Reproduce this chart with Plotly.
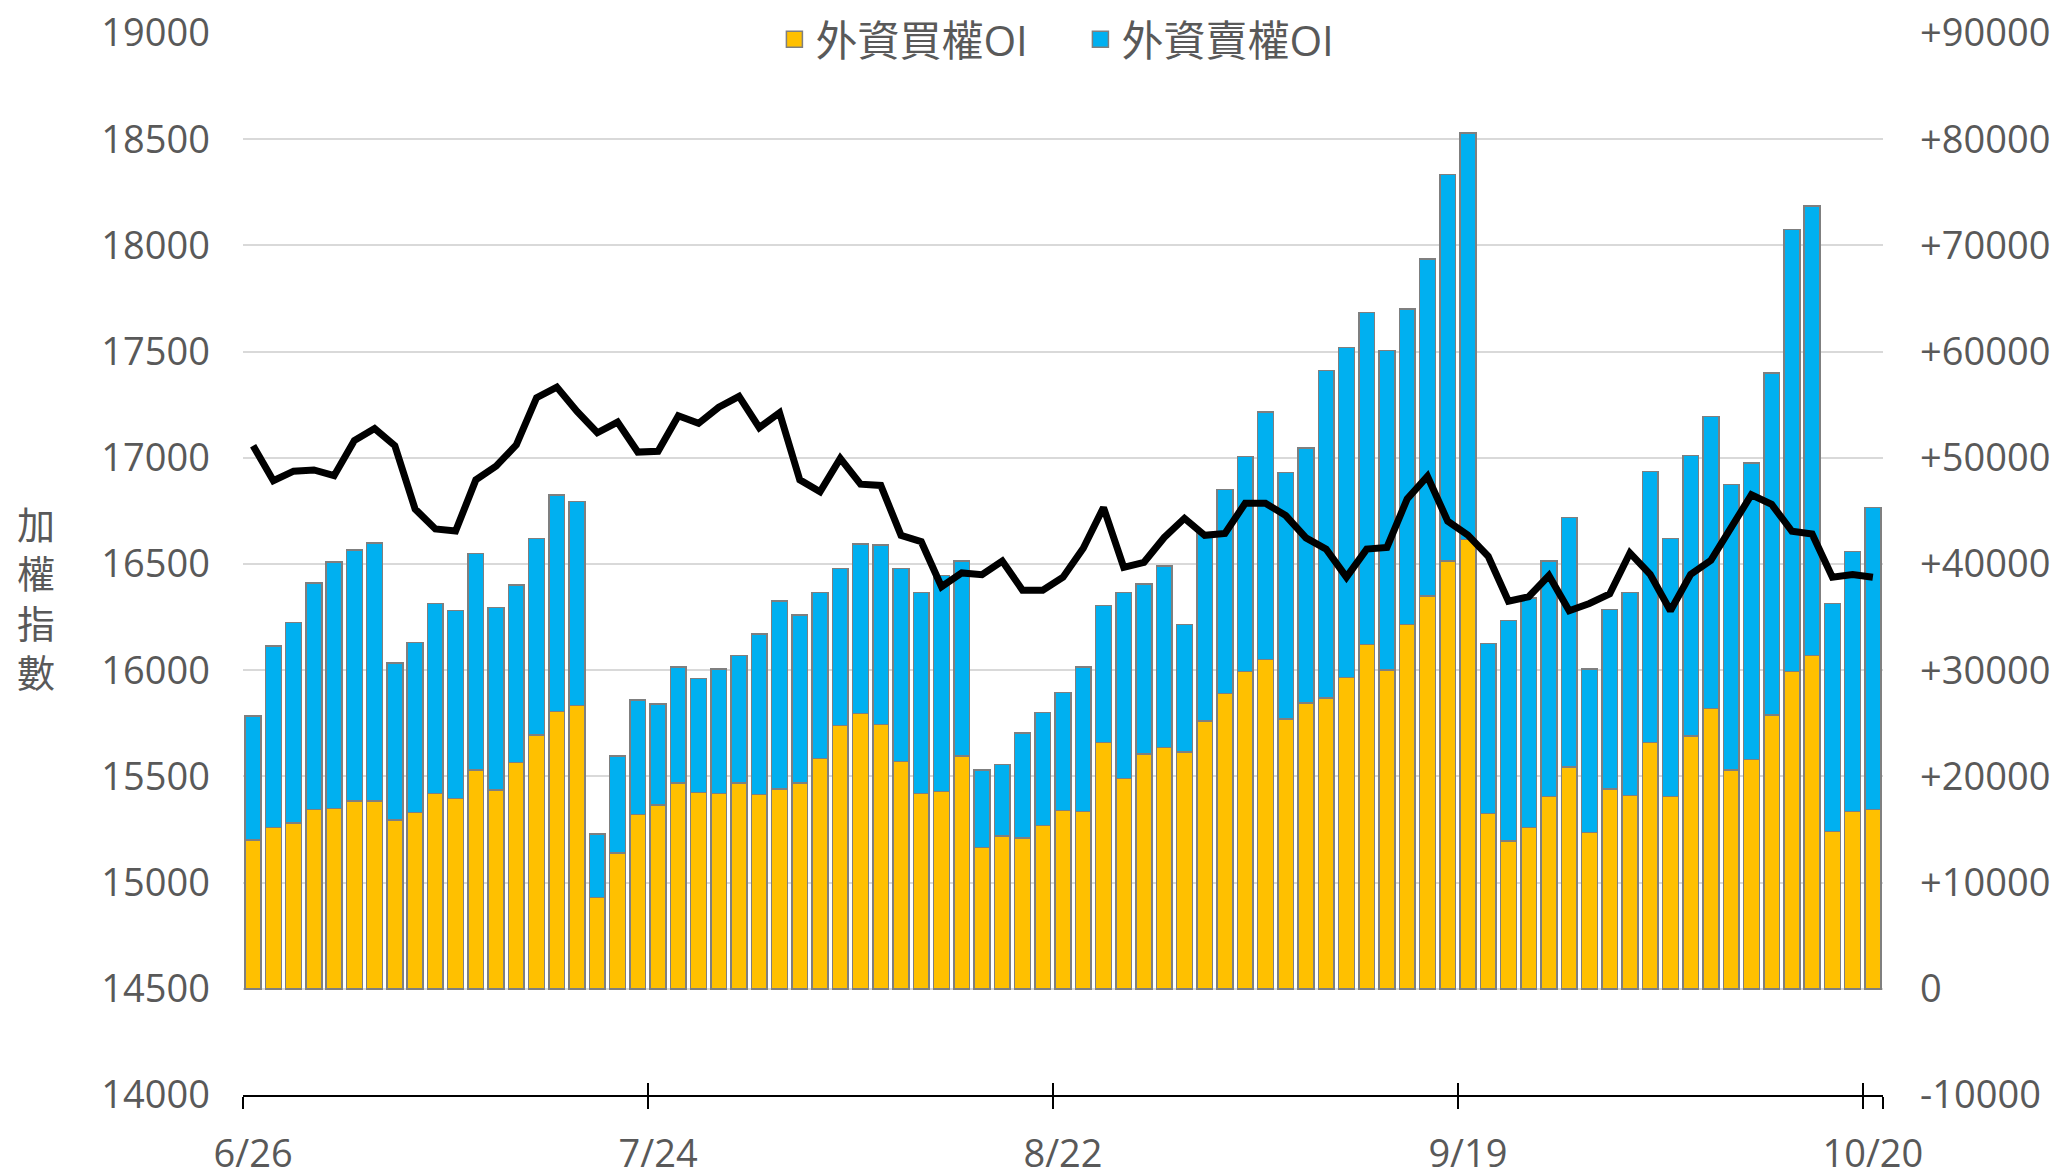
import plotly.graph_objects as go

# ---------------- data ----------------
dates = [
    "6/26", "6/27", "6/28", "6/29", "6/30",
    "7/3", "7/4", "7/5", "7/6", "7/7",
    "7/10", "7/11", "7/12", "7/13", "7/14",
    "7/17", "7/18", "7/19", "7/20", "7/21",
    "7/24", "7/25", "7/26", "7/27", "7/28",
    "7/31", "8/1", "8/2", "8/4",
    "8/7", "8/8", "8/9", "8/10", "8/11",
    "8/14", "8/15", "8/16", "8/17", "8/18",
    "8/21", "8/22", "8/23", "8/24", "8/25",
    "8/28", "8/29", "8/30", "8/31", "9/1",
    "9/4", "9/5", "9/6", "9/7", "9/8",
    "9/11", "9/12", "9/13", "9/14", "9/15",
    "9/18", "9/19", "9/20", "9/21", "9/22",
    "9/25", "9/26", "9/27", "9/28",
    "10/2", "10/3", "10/4", "10/5", "10/6",
    "10/11", "10/12", "10/13",
    "10/16", "10/17", "10/18", "10/19", "10/20",
]

taiex = [
    17057, 16892, 16937, 16943, 16916, 17081, 17138, 17057, 16759, 16665,
    16655, 16896, 16961, 17061, 17283, 17333, 17218, 17118, 17168, 17027,
    17031, 17198, 17162, 17238, 17289, 17142, 17212, 16896, 16840, 16997,
    16876, 16870, 16635, 16605, 16393, 16458, 16450, 16514, 16377, 16377,
    16438, 16574, 16766, 16484, 16508, 16625, 16715, 16635, 16644, 16786,
    16786, 16728, 16623, 16570, 16438, 16570, 16578, 16807, 16913, 16702,
    16636, 16536, 16325, 16346, 16446, 16280, 16314, 16359, 16552, 16451,
    16280, 16451, 16517, 16668, 16826, 16781, 16654, 16641, 16438, 16451,
    16438,
]

call_oi = [
    14000, 15200, 15600, 16900, 17000, 17700, 17700, 15900, 16600, 18400,
    17900, 20600, 18700, 21300, 23900, 26100, 26700, 8600, 12800, 16400,
    17300, 19400, 18500, 18400, 19400, 18300, 18800, 19400, 21700, 24800,
    25900, 24900, 21400, 18400, 18600, 21900, 13300, 14400, 14200, 15400,
    16800, 16700, 23200, 19800, 22100, 22700, 22300, 25200, 27800, 29900,
    31000, 25400, 26900, 27400, 29300, 32400, 30000, 34300, 37000, 40300,
    42300, 16500, 13900, 15200, 18100, 20900, 14700, 18800, 18200, 23200,
    18100, 23800, 26400, 20600, 21600, 25800, 29900, 31400, 14800, 16700,
    16900,
]

put_oi = [
    11700, 17100, 18900, 21300, 23200, 23600, 24300, 14800, 16000, 17900,
    17700, 20400, 17200, 16700, 18500, 20400, 19200, 6000, 9100, 10800,
    9500, 10900, 10700, 11700, 12000, 15100, 17700, 15800, 15600, 14800,
    16000, 16900, 18200, 18900, 20300, 18400, 7300, 6700, 9900, 10600,
    11100, 13600, 12900, 17500, 16000, 17100, 12000, 17700, 19200, 20200,
    23300, 23200, 24000, 30800, 31100, 31300, 30100, 29700, 31700, 36400,
    38300, 16000, 20800, 21600, 22200, 23500, 15400, 16900, 19100, 25500,
    24300, 26400, 27500, 26900, 27900, 32200, 41600, 42300, 21500, 24500,
    28400,
]

tick_dates = ["6/26", "7/24", "8/22", "9/19", "10/20"]
left_tickvals = [14000, 14500, 15000, 15500, 16000, 16500, 17000, 17500, 18000, 18500, 19000]
right_tickvals = [-10000, 0, 10000, 20000, 30000, 40000, 50000, 60000, 70000, 80000, 90000]
right_ticktext = ["-10000", "0", "+10000", "+20000", "+30000", "+40000",
                  "+50000", "+60000", "+70000", "+80000", "+90000"]

name_call = "外資買權OI"
name_put = "外資賣權OI"
y_title = "加權指數"

# ---------------- style ----------------
FONT = "Open Sans, Noto Sans CJK TC, sans-serif"
TXT = "#595959"
YELLOW = "#FFC000"
BLUE = "#00B0F0"
EDGE = "#7F7F7F"
GRID = "#D9D9D9"

fig = go.Figure()

fig.add_trace(go.Bar(
    x=dates, y=call_oi, name=name_call, xaxis="x", yaxis="y",
    marker=dict(color=YELLOW, line=dict(color=EDGE, width=1.5)),
    showlegend=False, hoverinfo="x+y+name",
))
fig.add_trace(go.Bar(
    x=dates, y=put_oi, name=name_put, xaxis="x", yaxis="y",
    marker=dict(color=BLUE, line=dict(color=EDGE, width=1.5)),
    showlegend=False, hoverinfo="x+y+name",
))
# legend entries
fig.add_trace(go.Scatter(
    x=[None], y=[None], name=name_call, mode="markers", xaxis="x", yaxis="y",
    marker=dict(symbol="square", size=16, color=YELLOW, line=dict(color=EDGE, width=1.5)),
))
fig.add_trace(go.Scatter(
    x=[None], y=[None], name=name_put, mode="markers", xaxis="x", yaxis="y",
    marker=dict(symbol="square", size=16, color=BLUE, line=dict(color=EDGE, width=1.5)),
))
# index line on the left axis (overlaying so it is drawn above bars)
fig.add_trace(go.Scatter(
    x=dates, y=taiex, name=y_title, mode="lines", xaxis="x", yaxis="y2",
    line=dict(color="black", width=7), showlegend=False,
))
# helper trace for the upper half of crossing tick marks
fig.add_trace(go.Scatter(
    x=dates, y=[None] * len(dates), xaxis="x2", yaxis="y",
    showlegend=False, hoverinfo="skip", mode="lines",
))

# the page has an 8px body margin, so the figure is 16px smaller than the window
fig.update_layout(
    width=2043, height=1160,
    margin=dict(l=235, r=168, t=25, b=73, autoexpand=False),
    paper_bgcolor="white", plot_bgcolor="white",
    font=dict(family=FONT, color=TXT, size=38),
    barmode="stack", bargap=0.22,
    showlegend=True,
    legend=dict(
        orientation="h", x=0.51, xanchor="center", y=0.994, yanchor="middle",
        traceorder="normal", entrywidth=259, entrywidthmode="pixels",
        font=dict(size=42, color=TXT, family=FONT), bgcolor="rgba(0,0,0,0)",
        itemwidth=32,
    ),
    xaxis=dict(
        type="category", categoryorder="array", categoryarray=dates,
        range=[-0.5, len(dates) - 0.5], anchor="y", automargin=False,
        tickmode="array", tickvals=tick_dates, ticktext=tick_dates, tickangle=0,
        tickson="boundaries", ticks="outside", ticklen=12, tickwidth=1.5,
        tickcolor="black", showline=True, linecolor="black", linewidth=1.5,
        showgrid=False, zeroline=False, ticklabeloverflow="allow",
        tickfont=dict(size=38, color=TXT), ticklabelstandoff=25,
    ),
    xaxis2=dict(
        type="category", categoryorder="array", categoryarray=dates,
        range=[-0.5, len(dates) - 0.5], anchor="y", overlaying="x", side="bottom",
        automargin=False,
        tickmode="array", tickvals=tick_dates,
        tickson="boundaries", ticks="inside", ticklen=12, tickwidth=1.5,
        tickcolor="black", showline=False, showgrid=False, zeroline=False,
        showticklabels=False,
    ),
    yaxis=dict(
        side="right", range=[-10000, 90000], automargin=False,
        tickmode="array", tickvals=right_tickvals, ticktext=right_ticktext,
        showgrid=True, gridcolor=GRID, gridwidth=1.5,
        zeroline=False, showline=False, ticks="", ticklabeloverflow="allow",
        tickfont=dict(size=38, color=TXT), ticklabelstandoff=36,
    ),
    yaxis2=dict(
        side="left", overlaying="y", range=[14000, 19000], automargin=False,
        tickmode="array", tickvals=left_tickvals, tickformat="d",
        showgrid=False, zeroline=False, showline=False, ticks="",
        ticklabeloverflow="allow",
        tickfont=dict(size=38, color=TXT), ticklabelstandoff=32,
    ),
    annotations=[dict(
        text="<br>".join(list(y_title)), xref="paper", yref="paper",
        x=0, xshift=-207, y=0.468, xanchor="center", yanchor="middle",
        showarrow=False, font=dict(size=38, color=TXT, family=FONT),
    )],
)

fig.write_html("out.html")
